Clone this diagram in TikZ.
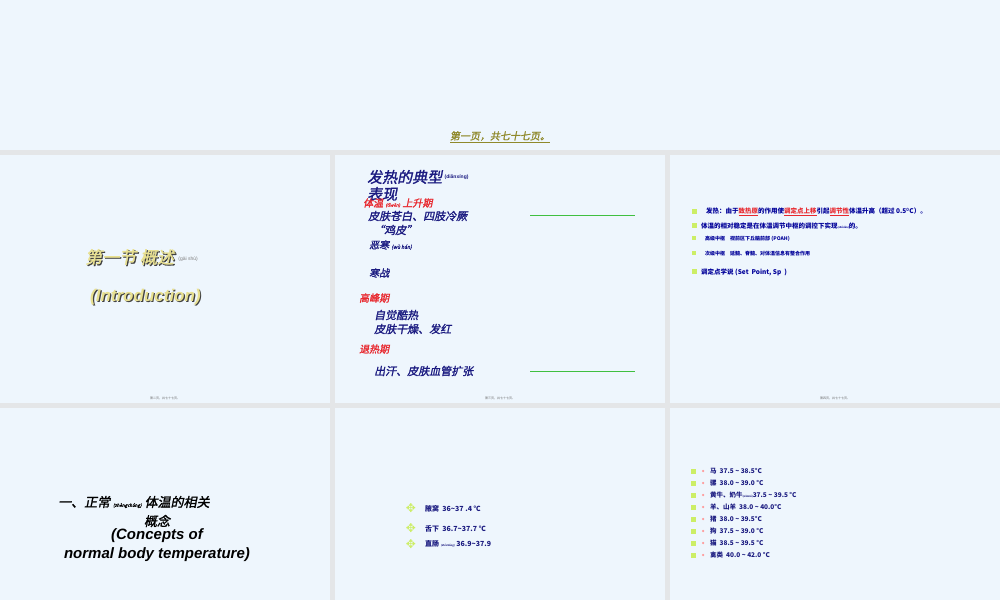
\documentclass[tikz,border=0pt]{standalone}
\usepackage{fontspec}
\setmainfont{Liberation Sans}
\newfontfamily\cjk{Noto Sans CJK SC}
\newfontfamily\cjki[FakeSlant=0.2,FakeBold=1.5]{Noto Sans CJK SC}
\begin{document}
\begin{tikzpicture}[x=1pt,y=-1pt,
  navy/.style={text=navyc,font=\cjki,anchor=west,inner sep=0},
  redt/.style={text=redc,font=\cjki,anchor=west,inner sep=0},
  foot/.style={font=\cjk\fontsize{3}{3}\selectfont,text=black!60,inner sep=0},
  bl/.style={text=blue!60!black,font=\cjk\bfseries\fontsize{6.5}{7}\selectfont,anchor=west,inner sep=0},
  sq/.style={fill=sqc,draw=none,minimum size=5pt,inner sep=0},
  gline/.style={draw=green!50!gray,line width=0.6pt}]
\definecolor{panelbg}{HTML}{EEF6FD}
\definecolor{gapc}{HTML}{E4E6E8}
\definecolor{navyc}{HTML}{1A1A80}
\definecolor{redc}{HTML}{E8282E}
\definecolor{sqc}{HTML}{CCEE66}
\definecolor{titc}{HTML}{E8E090}
\fill[gapc] (0,0) rectangle (1000,600);
\useasboundingbox (0,0) rectangle (1000,600);
\fill[panelbg] (0,0) rectangle (1000,150);
\foreach \x in {0,335,670}{
  \fill[panelbg] (\x,155) rectangle ++(330,248);
  \fill[panelbg] (\x,408) rectangle ++(330,192);}
% top caption
\node[font=\cjki\fontsize{10}{10}\selectfont,text=olive!70!gray] (cap) at (500,137) {\underline{第一页，共七十七页。}};
% slide 1
\node[font=\cjki\fontsize{17}{17}\selectfont,text=black!75,anchor=west,inner sep=0] (s1s) at (86.2,258.2) {第一节 概述};
\node[font=\cjki\fontsize{17}{17}\selectfont,text=titc,anchor=west,inner sep=0] (s1a) at (85,257) {第一节 概述};
\node[font=\fontsize{5}{5}\selectfont,text=gray,anchor=west,inner sep=0] (s1p) at ([xshift=4pt,yshift=-2pt]s1a.east) {(gài shù)};
\node[font=\bfseries\itshape\fontsize{17}{17}\selectfont,text=black!75,anchor=west,inner sep=0] (s1t) at (91.2,298.2) {(Introduction)};
\node[font=\bfseries\itshape\fontsize{17}{17}\selectfont,text=titc,anchor=west,inner sep=0] (s1b) at (90,297) {(Introduction)};
\node[foot] (f1) at (165,398) {第二页，共七十七页。};
% slide 2
\node[navy,font=\cjki\fontsize{15}{15}\selectfont] (h1) at (367,177) {发热的典型};
\node[text=navyc,font=\bfseries\fontsize{5}{5}\selectfont,anchor=west,inner sep=0] (h1p) at ([xshift=2pt]h1.east) {(diǎnxíng)};
\node[navy,font=\cjki\fontsize{15}{15}\selectfont] (h2) at (367,194) {表现};
\node[redt,font=\cjki\fontsize{10}{10}\selectfont] (r1) at (363,203) {体温 {\fontsize{4.5}{5}\selectfont(tǐwēn)} 上升期};
\node[navy,font=\cjki\fontsize{11}{11}\selectfont] (a1) at (368,216) {皮肤苍白、四肢冷厥};
\node[navy,font=\cjki\fontsize{11}{11}\selectfont] (a2) at (373,230) {“鸡皮”};
\node[navy,font=\cjki\fontsize{10}{10}\selectfont] (a3) at (369,245) {恶寒 {\fontsize{5}{5}\selectfont(wù hán)}};
\node[navy,font=\cjki\fontsize{10}{10}\selectfont] (a4) at (369,273) {寒战};
\node[redt,font=\cjki\fontsize{10}{10}\selectfont] (r2) at (359,298) {高峰期};
\node[navy,font=\cjki\fontsize{11}{11}\selectfont] (b1) at (374,315) {自觉酷热};
\node[navy,font=\cjki\fontsize{11}{11}\selectfont] (b2) at (374,329) {皮肤干燥、发红};
\node[redt,font=\cjki\fontsize{10}{10}\selectfont] (r3) at (359,349) {退热期};
\node[navy,font=\cjki\fontsize{11}{11}\selectfont] (c1) at (374,371) {出汗、皮肤血管扩张};
\coordinate (g1a) at (530,215); \coordinate (g1b) at (635,215);
\coordinate (g2a) at (530,371); \coordinate (g2b) at (635,371);
\draw[gline] (g1a) -- (g1b); \draw[gline] (g2a) -- (g2b);
\node[foot] (f2) at (500,398) {第三页，共七十七页。};
% slide 3
\node[sq] (q1) at (694,211) {}; \node[bl] (t1) at (706,212) {发热：由于{\color{redc}\underline{致热原}}的作用使{\color{redc}\underline{调定点上移}}引起{\color{redc}\underline{调节性}}体温升高（超过 0.5$^{\mathbf 0}$C）。};
\node[sq] (q2) at (694,225) {}; \node[bl] (t2) at (701,226) {体温的相对稳定是在体温调节中枢的调控下实现{\fontsize{2.5}{3}\selectfont(shíxiàn)}的。};
\node[sq,minimum size=4pt] (q3) at (694,238) {}; \node[bl,font=\cjk\bfseries\fontsize{5}{6}\selectfont] (t3) at (705,239) {高级中枢\quad 视前区下丘脑前部 (POAH)};
\node[sq,minimum size=4pt] (q4) at (694,253) {}; \node[bl,font=\cjk\bfseries\fontsize{5}{6}\selectfont] (t4) at (705,254) {次级中枢\quad 延髓、脊髓、对体温信息有整合作用};
\node[sq] (q5) at (694,271) {}; \node[bl] (t5) at (701,272) {调定点学说 (Set\ \ Point, Sp\ \ )};
\node[foot] (f3) at (835,398) {第四页，共七十七页。};
% slide 4
\node[font=\cjki\fontsize{13}{13}\selectfont,anchor=west,inner sep=0] (u1) at (58,502) {一、正常 {\fontsize{4.5}{5}\selectfont(zhèngcháng)} 体温的相关};
\node[font=\cjki\fontsize{13}{13}\selectfont,inner sep=0] (u2) at (157,521) {概念};
\node[font=\bfseries\itshape\fontsize{15}{15}\selectfont,inner sep=0] (u3) at (157,536) {(Concepts of};
\node[font=\bfseries\itshape\fontsize{15}{15}\selectfont,inner sep=0] (u4) at (157,555) {normal body temperature)};
% slide 5
\foreach \yy/\nm in {508/d1,528/d2,544/d3}{
  \node[font=\fontsize{12}{12}\selectfont,text=sqc,inner sep=0] (\nm) at (411,\yy) {\fontspec{DejaVu Sans}✥};}
\node[bl,text=navyc,font=\cjk\bfseries\fontsize{7}{7}\selectfont] (e1) at (425,509) {腋窝\ \ 36\textasciitilde37 .4 ℃};
\node[bl,text=navyc,font=\cjk\bfseries\fontsize{7}{7}\selectfont] (e2) at (425,529) {舌下\ \ 36.7\textasciitilde37.7 ℃};
\node[bl,text=navyc,font=\cjk\bfseries\fontsize{7}{7}\selectfont] (e3) at (425,544) {直肠 {\fontsize{2.5}{3}\selectfont(zhí cháng)} 36.9\textasciitilde37.9};
% slide 6
\foreach \i/\txt in {0/马\ \ 37.5 \textasciitilde\ 38.5°C,
                    1/骡\ \ 38.0 \textasciitilde\ 39.0 °C,
                    2/黄牛、奶牛{\fontsize{2.5}{3}\selectfont(nǎiniú)}37.5 \textasciitilde\ 39.5 °C,
                    3/羊、山羊\ \ 38.0 \textasciitilde\ 40.0°C,
                    4/猪\ \ 38.0 \textasciitilde\ 39.5°C,
                    5/狗\ \ 37.5 \textasciitilde\ 39.0 °C,
                    6/猫\ \ 38.5 \textasciitilde\ 39.5 °C,
                    7/禽类\ \ 40.0 \textasciitilde\ 42.0 °C}{
  \node[sq] (m\i) at (693,{471+12*\i}) {};
  \node[circle,fill=pink!80!red,inner sep=0,minimum size=2.5pt] (p\i) at (703,{471+12*\i}) {};
  \node[bl,text=navyc] (n\i) at (710,{471+12*\i}) {\txt};}
\end{tikzpicture}
\end{document}
